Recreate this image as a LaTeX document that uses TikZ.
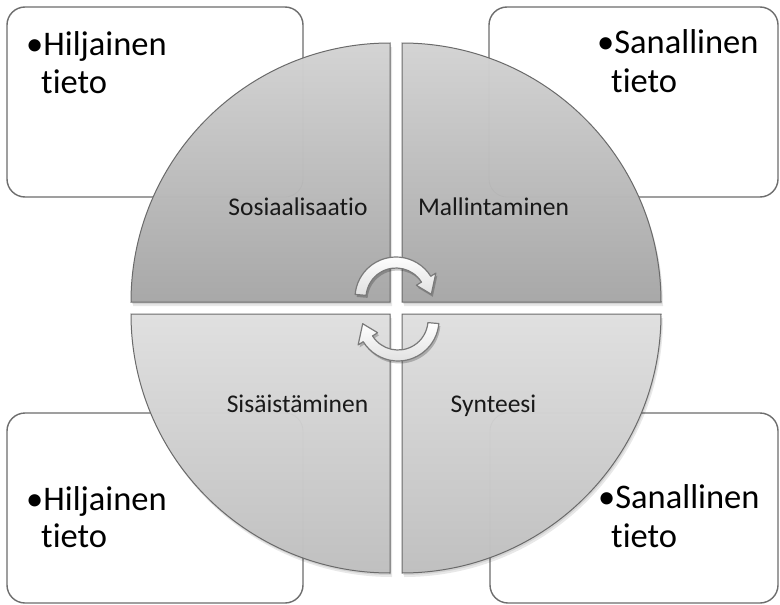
\documentclass[tikz,border=0pt]{standalone}
\usepackage{fontspec}
\setmainfont{Carlito}[Ligatures=NoCommon]
\usetikzlibrary{calc}
\definecolor{boxline}{HTML}{6E6E6E}
\definecolor{quadline}{HTML}{6A6A6A}
\definecolor{topA}{HTML}{D4D4D4}
\definecolor{topB}{HTML}{A8A8A8}
\definecolor{botA}{HTML}{E0E0E0}
\definecolor{botB}{HTML}{C0C0C0}
\definecolor{arrline}{HTML}{7A7A7A}
\tikzset{
  infobox/.style={draw=boxline,line width=1.4pt,fill=white,rounded corners=18pt},
  ghostbox/.style={draw=boxline,line width=0.8pt,draw opacity=0.06,rounded corners=18pt},
  quadtop/.style={draw=quadline,line width=1pt,top color=topA,bottom color=topB},
  quadbot/.style={draw=quadline,line width=1pt,top color=botA,bottom color=botB},
  qshadow/.style={fill=black,fill opacity=0.18},
  bigtext/.style={inner sep=0pt,anchor=base west,font=\fontsize{34.5}{38}\selectfont},
  smalltext/.style={inner sep=0pt,anchor=base,font=\fontsize{25.5}{30}\selectfont,text=black!90},
  cyclearrow/.style={draw=arrline,line width=1.2pt,top color=white,bottom color=white!88!black,line join=round},
  arrshadow/.style={fill=black,fill opacity=0.22}
}
\begin{document}
\begin{tikzpicture}[x=1pt,y=1pt]
\useasboundingbox (0,0) rectangle (780,-605);
\fill[white] (0,0) rectangle (780,-605);
% info boxes
\draw[infobox] (7,-7) rectangle (303,-197);
\draw[infobox] (489,-7) rectangle (778,-197);
\draw[infobox] (7,-413) rectangle (303,-603);
\draw[infobox] (490,-413) rectangle (778,-603);
% quadrant shadows
\foreach \s in {2,4}{
\fill[qshadow,fill opacity=0.09] ($(390,-302)+(\s*0.5,-\s)$) -- ++(-259,0) arc[start angle=180,end angle=90,radius=259] -- cycle;
\fill[qshadow,fill opacity=0.09] ($(402,-302)+(\s*0.5,-\s)$) -- ++(0,259) arc[start angle=90,end angle=0,radius=259] -- cycle;
\fill[qshadow,fill opacity=0.09] ($(390,-314)+(\s*0.5,-\s)$) -- ++(0,-259) arc[start angle=270,end angle=180,radius=259] -- cycle;
\fill[qshadow,fill opacity=0.09] ($(402,-314)+(\s*0.5,-\s)$) -- ++(259,0) arc[start angle=0,end angle=-90,radius=259] -- cycle;
}
% quadrants
\path[quadtop] (390,-302) -- ++(-259,0) arc[start angle=180,end angle=90,radius=259] -- cycle;
\path[quadtop] (402,-302) -- ++(0,259) arc[start angle=90,end angle=0,radius=259] -- cycle;
\path[quadbot] (390,-314) -- ++(0,-259) arc[start angle=270,end angle=180,radius=259] -- cycle;
\path[quadbot] (402,-314) -- ++(259,0) arc[start angle=0,end angle=-90,radius=259] -- cycle;
% faint box outlines seen through the quadrants
\draw[ghostbox] (7,-7) rectangle (303,-197);
\draw[ghostbox] (489,-7) rectangle (778,-197);
\draw[ghostbox] (7,-413) rectangle (303,-603);
\draw[ghostbox] (490,-413) rectangle (778,-603);
% cycle arrows
\coordinate (c1) at (396,-298);
\coordinate (c2) at (398,-320);
\fill[arrshadow] ($(c1)+(1.5,-2.5)+(175:41)$) arc[start angle=175,end angle=32,radius=41] -- ($(c1)+(1.5,-2.5)+(32:47)$) -- ($(c1)+(1.5,-2.5)+(6:35.5)$) -- ($(c1)+(1.5,-2.5)+(32:24)$) -- ($(c1)+(1.5,-2.5)+(32:30)$) arc[start angle=32,end angle=175,radius=30] -- cycle;
\fill[arrshadow] ($(c2)+(1.5,-2.5)+(355:41)$) arc[start angle=355,end angle=212,radius=41] -- ($(c2)+(1.5,-2.5)+(212:47)$) -- ($(c2)+(1.5,-2.5)+(186:35.5)$) -- ($(c2)+(1.5,-2.5)+(212:24)$) -- ($(c2)+(1.5,-2.5)+(212:30)$) arc[start angle=212,end angle=355,radius=30] -- cycle;
\path[cyclearrow] ($(c1)+(175:41)$) arc[start angle=175,end angle=32,radius=41] -- ($(c1)+(32:47)$) -- ($(c1)+(6:35.5)$) -- ($(c1)+(32:24)$) -- ($(c1)+(32:30)$) arc[start angle=32,end angle=175,radius=30] -- cycle;
\path[cyclearrow] ($(c2)+(355:41)$) arc[start angle=355,end angle=212,radius=41] -- ($(c2)+(212:47)$) -- ($(c2)+(186:35.5)$) -- ($(c2)+(212:24)$) -- ($(c2)+(212:30)$) arc[start angle=212,end angle=355,radius=30] -- cycle;
% quadrant labels
\node[smalltext] (lsos) at (298,-215) {Sosiaalisaatio};
\node[smalltext] (lmal) at (493.5,-215) {Mallintaminen};
\node[smalltext] (lsis) at (297.5,-412) {Sisäistäminen};
\node[smalltext] (lsyn) at (493.5,-412) {Synteesi};
% box texts
\node[bigtext] (tl1) at (26,-55) {•Hiljainen};
\node[bigtext] (tl2) at (41,-93) {tieto};
\node[bigtext] (tr1) at (597,-53) {•Sanallinen};
\node[bigtext] (tr2) at (611,-92) {tieto};
\node[bigtext] (bl1) at (26,-510) {•Hiljainen};
\node[bigtext] (bl2) at (41,-547) {tieto};
\node[bigtext] (br1) at (598,-508) {•Sanallinen};
\node[bigtext] (br2) at (611,-547) {tieto};
\end{tikzpicture}
\end{document}
